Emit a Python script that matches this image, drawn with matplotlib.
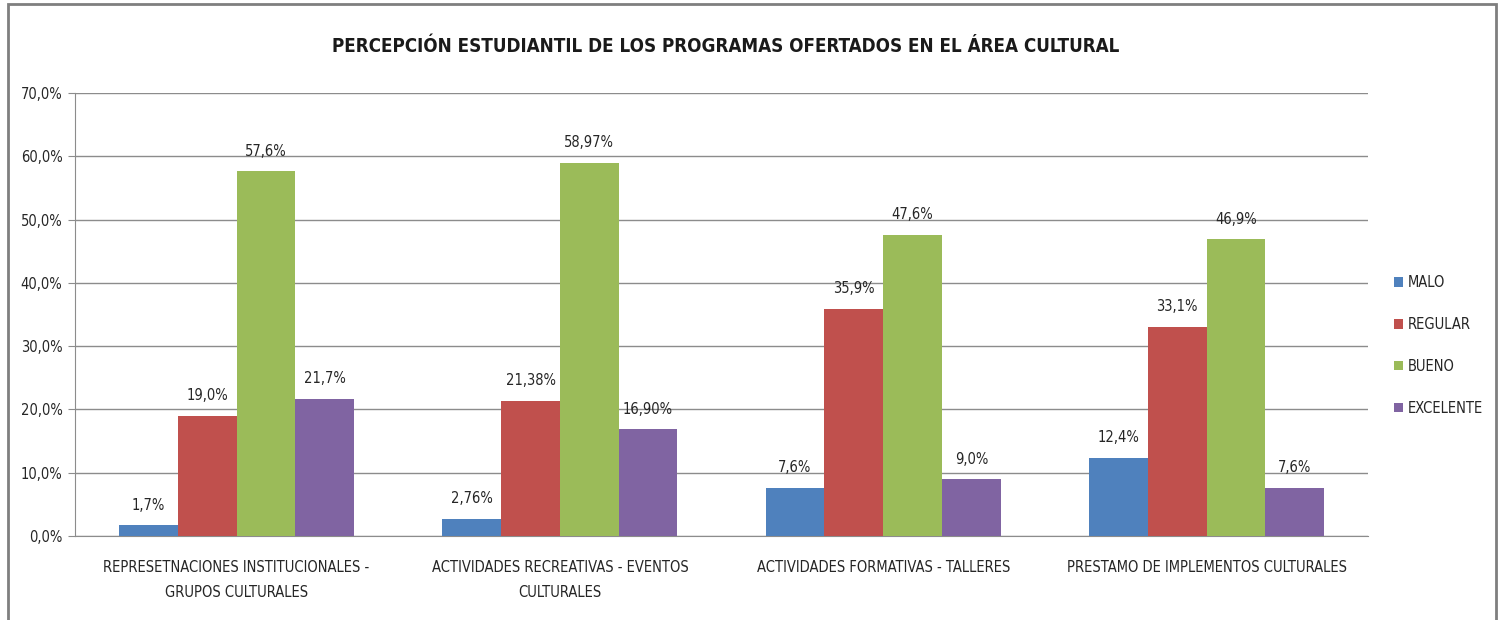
import matplotlib
matplotlib.use("Agg")
import matplotlib.pyplot as plt
import numpy as np
from matplotlib.patches import Rectangle
from matplotlib.ticker import FuncFormatter, MultipleLocator

categories = ["REPRESETNACIONES INSTITUCIONALES -\nGRUPOS CULTURALES",
              "ACTIVIDADES RECREATIVAS - EVENTOS\nCULTURALES",
              "ACTIVIDADES FORMATIVAS - TALLERES",
              "PRESTAMO DE IMPLEMENTOS CULTURALES"]
series = ["MALO", "REGULAR", "BUENO", "EXCELENTE"]
malo = [1.7, 2.76, 7.6, 12.4]
regular = [19.0, 21.38, 35.9, 33.1]
bueno = [57.6, 58.97, 47.6, 46.9]
excelente = [21.7, 16.90, 9.0, 7.6]
labels_malo = ["1,7%", "2,76%", "7,6%", "12,4%"]
labels_regular = ["19,0%", "21,38%", "35,9%", "33,1%"]
labels_bueno = ["57,6%", "58,97%", "47,6%", "46,9%"]
labels_excelente = ["21,7%", "16,90%", "9,0%", "7,6%"]
title = "PERCEPCIÓN ESTUDIANTIL DE LOS PROGRAMAS OFERTADOS EN EL ÁREA CULTURAL"

values = [malo, regular, bueno, excelente]
labels = [labels_malo, labels_regular, labels_bueno, labels_excelente]
colors = ["#4F81BD", "#C0504D", "#9BBB59", "#8064A2"]

plt.rcParams['font.family'] = ['DejaVu Sans']
plt.rcParams['font.stretch'] = 'condensed'

fig = plt.figure(figsize=(15.02, 6.2), dpi=100)
ax = fig.add_axes([0.0499, 0.1355, 0.861, 0.7145])

x = np.arange(len(categories))
w = 1 / 5.5
for i, (vals, labs, c, name) in enumerate(zip(values, labels, colors, series)):
    pos = x + (i - 1.5) * w
    bars = ax.bar(pos, vals, width=w, color=c, label=name, zorder=3)
    for b, lab in zip(bars, labs):
        ax.annotate(lab, (b.get_x() + b.get_width() / 2, b.get_height()),
                    xytext=(0, 9), textcoords="offset points",
                    ha="center", va="bottom", fontsize=10.5, color="#262626")

ax.set_xlim(-0.5, len(categories) - 0.5)
ax.set_ylim(0, 70)
ax.yaxis.set_major_locator(MultipleLocator(10))
ax.yaxis.set_major_formatter(FuncFormatter(lambda v, p: f"{v:.1f}%".replace(".", ",")))
ax.grid(axis="y", color="#8c8c8c", linewidth=1, zorder=0)
ax.set_xticks(x)
ax.set_xticklabels(categories, fontsize=10.5, color="#262626", linespacing=1.9)
ax.tick_params(axis="x", length=0, pad=17)
ax.tick_params(axis="y", length=5, color="#8c8c8c", labelsize=10.5, labelcolor="#262626", pad=4)
for s in ["top", "right"]:
    ax.spines[s].set_visible(False)
ax.spines["left"].set_color("#8c8c8c")
ax.spines["bottom"].set_color("#8c8c8c")

fig.text(0.483, 0.925, title, ha="center", va="center", fontsize=13.5, fontweight="bold", color="#1a1a1a")

ax.legend(loc="center left", bbox_to_anchor=(1.01, 0.43), frameon=False,
          fontsize=10.5, handlelength=0.6, handleheight=0.6, handletextpad=0.3,
          labelspacing=1.85, labelcolor="#262626")

fig.patches.append(Rectangle((0.0053, -0.05), 0.9907, 1.0435, transform=fig.transFigure,
                             fill=False, edgecolor="#7f7f7f", linewidth=2))

fig.savefig("out.png", dpi=100, facecolor="white")
